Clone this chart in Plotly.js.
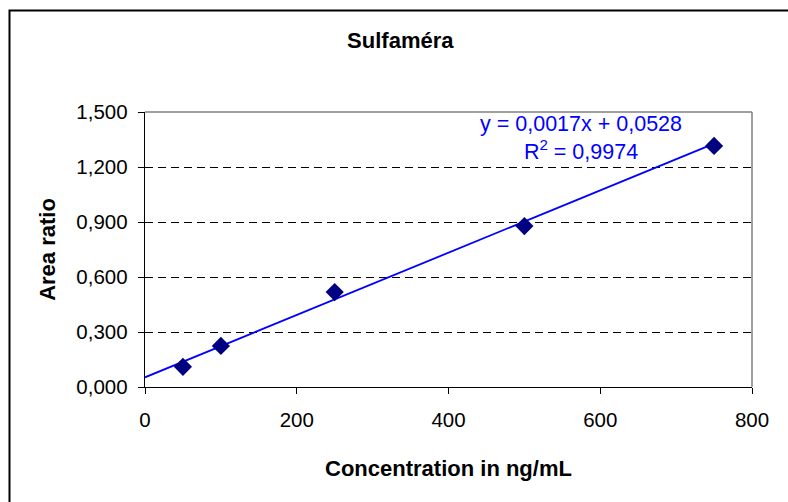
<!DOCTYPE html>
<html>
<head>
<meta charset="utf-8">
<script src="https://cdn.plot.ly/plotly-3.0.1.min.js"></script>
<style>
  html, body { margin: 0; padding: 0; background: #ffffff; }
  #chart { width: 788px; height: 502px; }
</style>
</head>
<body>
<div id="chart"></div>
<script>
// Calibration standards for Sulfaméra
const concentration = [50, 100, 250, 500, 750];          // ng/mL
const areaRatio     = [0.11, 0.224, 0.518, 0.878, 1.315];

// Linear trendline coefficients as reported on the chart
const slope = 0.0017;
const intercept = 0.0528;
const rSquared = 0.9974;
const trendRange = [0, 750];

const xTicks = [0, 200, 400, 600, 800];
const yTicks = [0, 0.3, 0.6, 0.9, 1.2, 1.5];

const fmt = (v, d) => v.toFixed(d).replace('.', ',');

const trendX = trendRange;
const trendY = trendRange.map(x => slope * x + intercept);

const font = 'Liberation Sans, Arial, sans-serif';

const data = [
  {
    x: trendX, y: trendY, type: 'scatter', mode: 'lines',
    line: { color: '#0000ff', width: 1.8 },
    hoverinfo: 'skip', showlegend: false
  },
  {
    x: concentration, y: areaRatio, type: 'scatter', mode: 'markers',
    marker: { symbol: 'diamond', size: 14, color: '#000080',
              line: { width: 0 } },
    showlegend: false
  }
];

const layout = {
  width: 788, height: 502,
  margin: { l: 145, r: 36, t: 112, b: 115 },
  paper_bgcolor: '#ffffff', plot_bgcolor: '#ffffff',
  separators: ',.',
  font: { family: font, color: '#000000', size: 20 },
  title: {
    text: '<b>Sulfaméra</b>',
    font: { family: font, size: 22, color: '#000000' },
    x: 0.508, xref: 'container', xanchor: 'center',
    y: 1 - 40 / 502, yref: 'container', yanchor: 'middle'
  },
  xaxis: {
    range: [0, 800], tickvals: xTicks, ticktext: xTicks.map(String),
    showgrid: false, zeroline: false,
    showline: true, linecolor: '#000000', linewidth: 1.3,
    ticks: 'outside', ticklen: 6, tickcolor: '#000000', tickwidth: 1,
    ticklabelstandoff: 8,
    tickfont: { family: font, size: 20.5, color: '#000000' },
    title: { text: '<b>Concentration in ng/mL</b>', standoff: 30,
             font: { family: font, size: 22, color: '#000000' } },
    automargin: false
  },
  yaxis: {
    range: [0, 1.5], tickvals: yTicks, tickformat: '.3f',
    showgrid: true, gridcolor: '#000000', gridwidth: 1, griddash: '8px,5px',
    zeroline: false,
    showline: true, linecolor: '#000000', linewidth: 1.3,
    ticks: 'outside', ticklen: 6, tickcolor: '#000000', tickwidth: 1,
    ticklabelstandoff: 6,
    tickfont: { family: font, size: 20.5, color: '#000000' },
    title: { text: '<b>Area ratio</b>', standoff: 14,
             font: { family: font, size: 22, color: '#000000' } },
    automargin: false
  },
  shapes: [
    // gray frame of the plot area (top and right edges)
    { type: 'line', xref: 'paper', yref: 'paper', x0: 0, x1: 1, y0: 1, y1: 1,
      line: { color: '#808080', width: 1.5 } },
    { type: 'line', xref: 'paper', yref: 'paper', x0: 1, x1: 1, y0: 0, y1: 1,
      line: { color: '#808080', width: 1.5 } },
    // outer chart border
    { type: 'rect', xref: 'paper', yref: 'paper',
      x0: (9.5 - 145) / 607, x1: 1.3, y0: (387 - 10.5) / 275, y1: -0.6,
      line: { color: '#000000', width: 2 }, layer: 'above' }
  ],
  annotations: [
    {
      x: 575, y: 1.356, xref: 'x', yref: 'y',
      xanchor: 'center', yanchor: 'middle', align: 'center', showarrow: false,
      text: 'y = ' + fmt(slope, 4) + 'x + ' + fmt(intercept, 4) +
            '<br>R<sup>2</sup> = ' + fmt(rSquared, 4),
      font: { family: font, size: 21.5, color: '#0000ff' }
    }
  ]
};

Plotly.newPlot('chart', data, layout, { displayModeBar: false, staticPlot: true });
</script>
</body>
</html>
